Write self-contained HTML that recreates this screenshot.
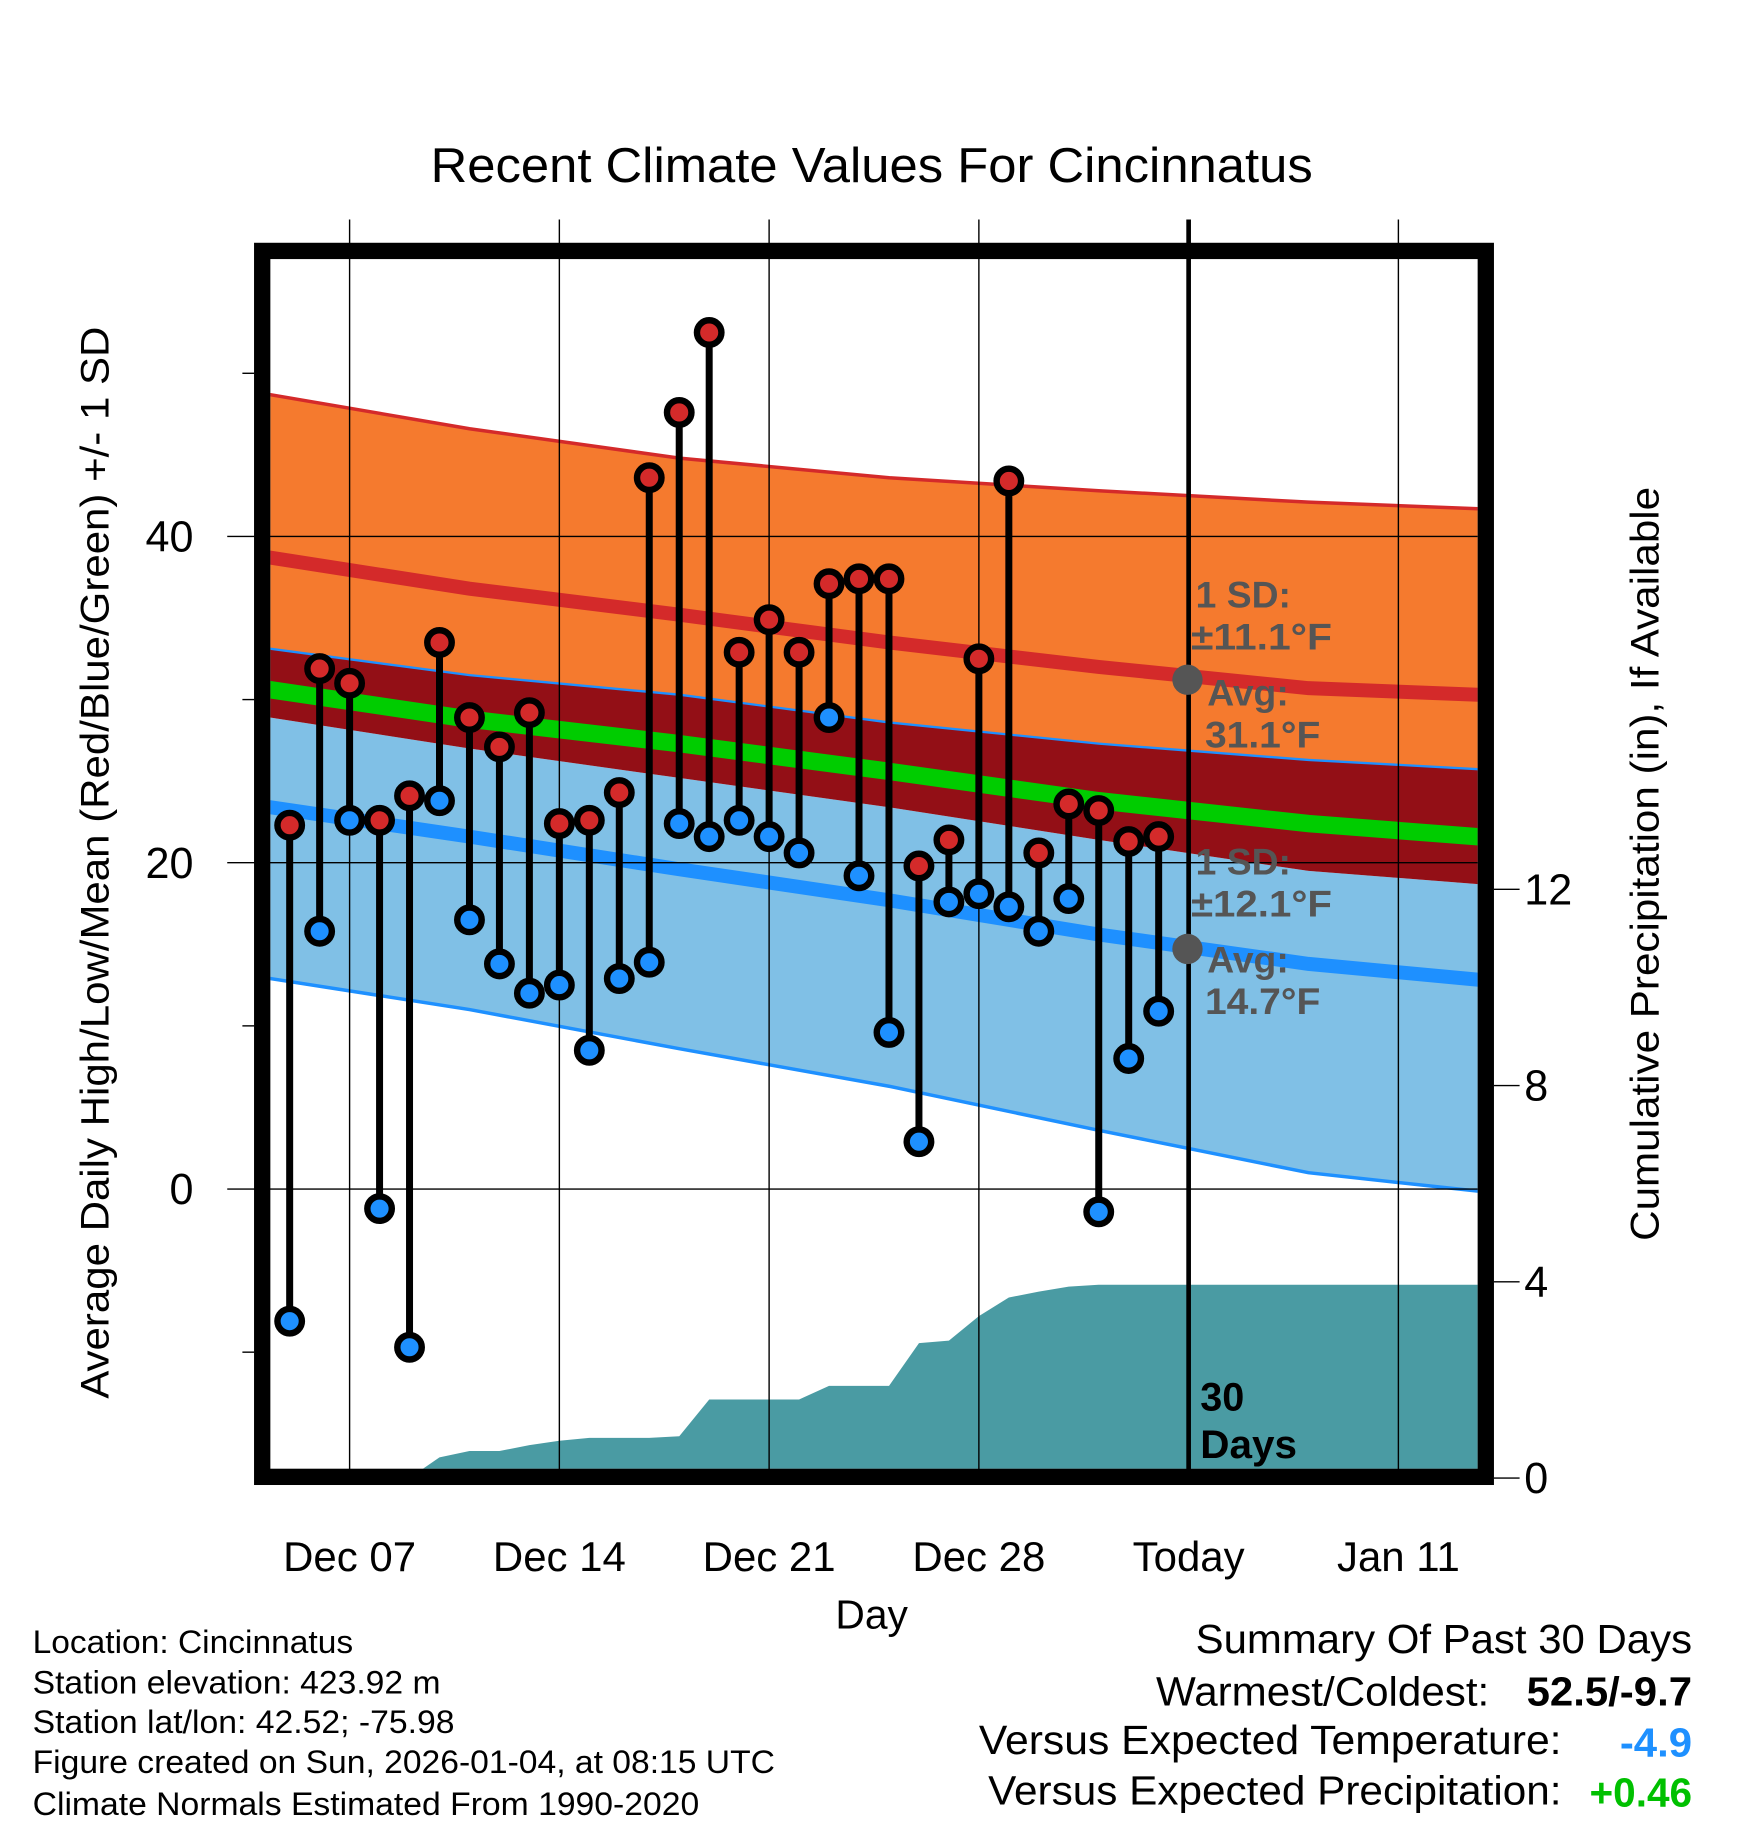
<!DOCTYPE html>
<html><head><meta charset="utf-8"><style>
html,body{margin:0;padding:0;background:#fff}
svg{display:block}
text{font-family:"Liberation Sans",sans-serif}
</style></head><body>
<svg id="chart" width="1748" height="1828" viewBox="0 0 1500 1568" xmlns="http://www.w3.org/2000/svg">
<defs><clipPath id="plotclip"><rect x="232" y="222" width="1036" height="1038"/></clipPath></defs>
<g id="plot" clip-path="url(#plotclip)"></g>
<g id="grid"></g>
<g id="marks"></g>
<rect x="225" y="215" width="1050" height="1052" fill="none" stroke="#000" stroke-width="14"/>
<text x="748" y="156" font-size="42" text-anchor="middle" textLength="757" lengthAdjust="spacingAndGlyphs">Recent Climate Values For Cincinnatus</text>
<text transform="translate(93,740) rotate(-90)" font-size="34" text-anchor="middle" textLength="920" lengthAdjust="spacingAndGlyphs">Average Daily High/Low/Mean (Red/Blue/Green) +/- 1 SD</text>
<text transform="translate(1423,741) rotate(-90)" font-size="34" text-anchor="middle" textLength="647" lengthAdjust="spacingAndGlyphs">Cumulative Precipitation (in), If Available</text>
<text x="748" y="1397" font-size="35" text-anchor="middle">Day</text>
<g id="ticks"></g>
<g font-weight="bold" fill="#555" font-size="32">
<circle cx="1019" cy="583" r="13" fill="#555"/>
<circle cx="1019" cy="814" r="13" fill="#555"/>
<text x="1026" y="521">1 SD:</text>
<text x="1022" y="557" textLength="121" lengthAdjust="spacingAndGlyphs">±11.1°F</text>
<text x="1036" y="605">Avg:</text>
<text x="1034" y="641" textLength="99" lengthAdjust="spacingAndGlyphs">31.1°F</text>
<text x="1026" y="750">1 SD:</text>
<text x="1022" y="786" textLength="121" lengthAdjust="spacingAndGlyphs">±12.1°F</text>
<text x="1036" y="834">Avg:</text>
<text x="1034" y="870" textLength="99" lengthAdjust="spacingAndGlyphs">14.7°F</text>
</g>
<text x="1030" y="1210" font-size="34" font-weight="bold">30</text>
<text x="1030" y="1251" font-size="34" font-weight="bold" textLength="83" lengthAdjust="spacingAndGlyphs">Days</text>
<g font-size="28" lengthAdjust="spacingAndGlyphs">
<text x="28" y="1418" textLength="275" lengthAdjust="spacingAndGlyphs">Location: Cincinnatus</text>
<text x="28" y="1453" textLength="350" lengthAdjust="spacingAndGlyphs">Station elevation: 423.92 m</text>
<text x="28" y="1487" textLength="362" lengthAdjust="spacingAndGlyphs">Station lat/lon: 42.52; -75.98</text>
<text x="28" y="1521" textLength="637" lengthAdjust="spacingAndGlyphs">Figure created on Sun, 2026-01-04, at 08:15 UTC</text>
<text x="28" y="1557" textLength="572" lengthAdjust="spacingAndGlyphs">Climate Normals Estimated From 1990-2020</text>
</g>
<g font-size="35">
<text x="1026" y="1418" textLength="426" lengthAdjust="spacingAndGlyphs">Summary Of Past 30 Days</text>
<text x="992" y="1463" textLength="286" lengthAdjust="spacingAndGlyphs">Warmest/Coldest:</text>
<text x="1310" y="1463" font-weight="bold" textLength="142" lengthAdjust="spacingAndGlyphs">52.5/-9.7</text>
<text x="840" y="1505" textLength="500" lengthAdjust="spacingAndGlyphs">Versus Expected Temperature:</text>
<text x="1390" y="1507" font-weight="bold" fill="#1e90ff" textLength="62" lengthAdjust="spacingAndGlyphs">-4.9</text>
<text x="848" y="1548" textLength="492" lengthAdjust="spacingAndGlyphs">Versus Expected Precipitation:</text>
<text x="1364" y="1550" font-weight="bold" fill="#00c000" textLength="88" lengthAdjust="spacingAndGlyphs">+0.46</text>
</g>
</svg>
<script>
// daily observations (day of December; 32 = Jan 1)
const obsDays = [5,6,7,8,9,10,11,12,13,14,15,16,17,18,19,20,21,22,23,24,25,26,27,28,29,30,31,32,33,34];
const highs = [22.3,31.9,31.0,22.6,24.1,33.5,28.9,27.1,29.2,22.4,22.6,24.3,43.6,47.6,52.5,32.9,34.9,32.9,37.1,37.4,37.4,19.8,21.4,32.5,43.4,20.6,23.6,23.2,21.3,21.6];
const lows = [-8.1,15.8,22.6,-1.2,-9.7,23.8,16.5,13.8,12.0,12.5,8.5,12.9,13.9,22.4,21.6,22.6,21.6,20.6,28.9,19.2,9.6,2.9,17.6,18.1,17.3,15.8,17.8,-1.4,8.0,10.9];
const precipCum = [0,0,0,0,0,0.42,0.55,0.55,0.67,0.76,0.82,0.82,0.82,0.85,1.60,1.60,1.60,1.60,1.88,1.88,1.88,2.75,2.80,3.30,3.68,3.80,3.90,3.94,3.94,3.94];
// climate normals
const normDays = [4,11,18,25,32,39,46];
const highUpper = [48.8,46.6,44.8,43.6,42.8,42.1,41.6];
const highMean = [38.8,36.8,35.2,33.5,32.0,30.7,30.2];
const highLower = [33.2,31.5,30.3,28.6,27.3,26.3,25.6];
const meanMean = [30.7,28.8,27.3,25.6,23.8,22.4,21.4];
const lowUpper = [29.0,27.0,25.2,23.4,21.4,19.5,18.5];
const lowMean = [23.5,21.6,19.6,17.7,15.6,13.8,12.6];
const lowLower = [13.0,11.0,8.6,6.3,3.6,1.0,-0.4];
const xTickDays = [7,14,21,28,35,42];
const xTickLabels = ["Dec 07","Dec 14","Dec 21","Dec 28","Today","Jan 11"];
const yTicks = [0,20,40];
const yMinor = [-10,10,30,50];
const y2Ticks = [0,4,8,12];

const NS="http://www.w3.org/2000/svg";
const X = d => 300 + (d-7)*25.714;
const Y = t => 1020 - t*14;
const Y2 = p => 1268 - p*42.1;
function mk(tag, attrs, parent){const e=document.createElementNS(NS,tag);for(const k in attrs)e.setAttribute(k,attrs[k]);parent.appendChild(e);return e;}
const plot=document.getElementById('plot'), grid=document.getElementById('grid'), marks=document.getElementById('marks'), ticks=document.getElementById('ticks');
function pts(vals){return normDays.map((d,i)=>X(d).toFixed(1)+','+Y(vals[i]).toFixed(1));}
function band(a,b,fill,name){
  const p=pts(a).concat(pts(b).reverse()).join(' ');
  const e=mk('polygon',{points:p,fill:fill},plot);
  
  
}
function line(v,stroke,w,name){
  const e=mk('polyline',{points:pts(v).join(' '),fill:'none',stroke:stroke,'stroke-width':w},plot);
  
  
}
band(lowUpper,lowLower,'#80c0e6','low-sd-band');
band(highLower,lowUpper,'#930f16','overlap-band');
band(highUpper,highLower,'#f57a2e','high-sd-band');
line(lowLower,'#1e90ff',3,'low-lower-line');
line(highLower,'#1e90ff',2,'high-lower-line');
line(highUpper,'#d42a2a',3,'high-upper-line');
line(meanMean,'#00cc00',15,'mean-normal-line');
line(highMean,'#d42a2a',12,'high-normal-line');
line(lowMean,'#1e90ff',12,'low-normal-line');
// precipitation area
let pp=[X(obsDays[0])+','+Y2(0)];
obsDays.forEach((d,i)=>pp.push(X(d).toFixed(1)+','+Y2(precipCum[i]).toFixed(1)));
pp.push('1270,'+Y2(precipCum[precipCum.length-1]).toFixed(1));
pp.push('1270,1262');
const pa=mk('polygon',{points:pp.join(' '),fill:'#4a9ba3'},plot);


// grid
xTickDays.forEach((d,i)=>{
  const today = xTickLabels[i]==="Today";
  const l=mk('line',{x1:X(d),x2:X(d),y1:188,y2:1262,stroke:'#000','stroke-width':today?4:1.2},grid);
  
  
  const t=mk('text',{x:X(d),y:1348,'font-size':36,'text-anchor':'middle'},ticks);
  t.textContent=xTickLabels[i];
  
  
});
yTicks.forEach(v=>{
  const l=mk('line',{x1:195,x2:1268,y1:Y(v),y2:Y(v),stroke:'#000','stroke-width':1.2},grid);
  
  
  const t=mk('text',{x:166,y:Y(v)+13,'font-size':37,'text-anchor':'end'},ticks);
  t.textContent=v;
  
  
});
yMinor.forEach(v=>{
  const l=mk('line',{x1:208,x2:218,y1:Y(v),y2:Y(v),stroke:'#000','stroke-width':1.2},grid);
  
  
});
y2Ticks.forEach(v=>{
  const l=mk('line',{x1:1282,x2:1304,y1:Y2(v),y2:Y2(v),stroke:'#000','stroke-width':1.2},grid);
  
  
  const t=mk('text',{x:1308,y:Y2(v)+13,'font-size':37},ticks);
  t.textContent=v;
  
  
});
// daily stems & markers
obsDays.forEach((d,i)=>{
  const x=X(d);
  const s=mk('line',{x1:x,x2:x,y1:Y(highs[i]),y2:Y(lows[i]),stroke:'#000','stroke-width':6},marks);
  
  
  const h=mk('circle',{cx:x,cy:Y(highs[i]),r:10.5,fill:'#d42a2a',stroke:'#000','stroke-width':5.5},marks);
  
  
  const lo=mk('circle',{cx:x,cy:Y(lows[i]),r:10.5,fill:'#1e90ff',stroke:'#000','stroke-width':5.5},marks);
  
  
});
</script>
</body></html>
